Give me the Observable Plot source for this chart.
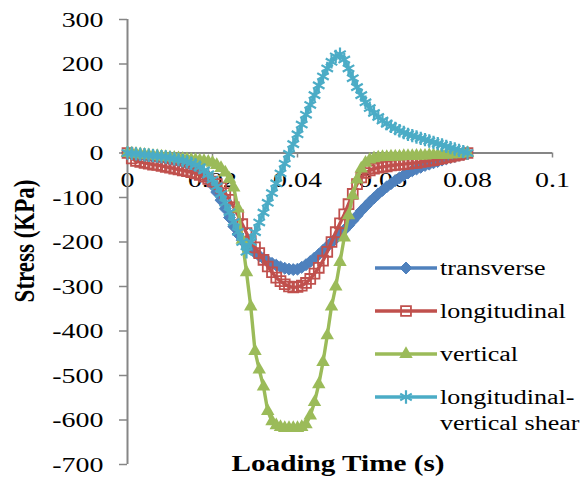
<!DOCTYPE html>
<html>
<head>
<meta charset="utf-8">
<script src="https://cdn.jsdelivr.net/npm/d3@7"></script>
<script src="https://cdn.jsdelivr.net/npm/@observablehq/plot@0.6"></script>
<style>
  body { margin: 0; background: #fff; }
  #chart { width: 581px; height: 478px; overflow: hidden; }
</style>
</head>
<body>
<div id="chart"></div>
<script>
// ---- data ----
const time = [
  0, 0.001, 0.002, 0.003, 0.004, 0.005, 0.006, 0.007, 0.008, 0.009,
  0.010, 0.011, 0.012, 0.013, 0.014, 0.015, 0.016, 0.017, 0.018, 0.019,
  0.020, 0.021, 0.022, 0.023, 0.024, 0.025, 0.026, 0.027, 0.028, 0.029,
  0.030, 0.031, 0.032, 0.033, 0.034, 0.035, 0.036, 0.037, 0.038, 0.039,
  0.040, 0.041, 0.042, 0.043, 0.044, 0.045, 0.046, 0.047, 0.048, 0.049,
  0.050, 0.051, 0.052, 0.053, 0.054, 0.055, 0.056, 0.057, 0.058, 0.059,
  0.060, 0.061, 0.062, 0.063, 0.064, 0.065, 0.066, 0.067, 0.068, 0.069,
  0.070, 0.071, 0.072, 0.073, 0.074, 0.075, 0.076, 0.077, 0.078, 0.079,
  0.080
];
const transverse = [
  0, -2, -4, -5, -6, -8, -9, -10, -12, -13,
  -15, -17, -19, -21, -24, -27, -32, -38, -47, -58,
  -72, -88, -106, -125, -145, -165, -182, -196, -207, -216,
  -224, -231, -237, -243, -248, -252, -256, -259, -261, -262,
  -261, -257, -251, -244, -236, -228, -219, -210, -201, -192,
  -183, -173, -163, -152, -141, -130, -120, -110, -101, -92,
  -84, -76, -69, -62, -56, -50, -45, -40, -36, -32,
  -28, -25, -22, -19, -16, -13, -10, -8, -5, -3,
  0
];
const longitudinal = [
  0, -12, -18, -20, -22, -24, -26, -27, -29, -31,
  -33, -35, -37, -39, -41, -43, -46, -49, -53, -58,
  -64, -70, -78, -90, -105, -122, -140, -160, -180, -198,
  -212, -225, -240, -255, -268, -280, -288, -295, -300, -302,
  -301, -298, -292, -283, -271, -258, -242, -222, -200, -178,
  -158, -138, -115, -92, -70, -55, -45, -39, -35, -33,
  -31, -30, -28, -27, -26, -25, -24, -23, -22, -20,
  -19, -17, -16, -14, -12, -10, -8, -6, -4, -2,
  0
];
const vertical = [
  0, -1, -2, -3, -4, -5, -6, -7, -8, -9,
  -10, -11, -12, -13, -14, -15, -16, -17, -18, -20,
  -22, -27, -34, -44, -58, -78, -125, -195, -268, -345,
  -445, -487, -525, -580, -603, -612, -616, -618, -618, -618,
  -618, -616, -610, -590, -560, -520, -470, -410, -345, -300,
  -245, -190, -140, -95, -60, -35, -22, -15, -12, -10,
  -9, -9, -8, -8, -8, -7, -7, -7, -6, -6,
  -6, -5, -5, -5, -4, -4, -3, -3, -2, -1,
  0
];
const shear = [
  0, -1, -2, -3, -4, -5, -6, -7, -8, -9,
  -11, -13, -15, -17, -20, -23, -27, -32, -39, -48,
  -60, -75, -92, -112, -133, -155, -177, -200, -222, -200,
  -178, -156, -134, -112, -90, -68, -46, -24, -2, 20,
  42, 64, 86, 108, 130, 152, 172, 190, 205, 217,
  222, 210, 190, 168, 148, 130, 114, 101, 90, 81,
  73, 66, 60, 55, 50, 46, 42, 39, 36, 33,
  30, 27, 24, 21, 18, 15, 12, 9, 6, 3,
  0
];
const seriesNames = ["transverse", "longitudinal", "vertical", "longitudinal-\nvertical shear"];
const xTicks = [0, 0.02, 0.04, 0.06, 0.08, 0.1];
const xTickLabels = ["0", "0.02", "0.04", "0.06", "0.08", "0.1"];
const yTicks = [300, 200, 100, 0, -100, -200, -300, -400, -500, -600, -700];
const xTitle = "Loading Time (s)";
const yTitle = "Stress (KPa)";

// ---- styling ----
const FONT = "'Liberation Serif', 'Times New Roman', serif";
const SX = 1.27; // horizontal stretch of the reference's text
const AXIS = "#868686";
const styles = [
  {values: transverse, color: "#4F81BD", symbol: "diamond2", r: 5.4, fill: "#4F81BD", sw: 1},
  {values: longitudinal, color: "#C0504D", symbol: "square2", r: 6.3, fill: "none", sw: 1.8},
  {values: vertical, color: "#9BBB59", symbol: "triangle", r: 5, fill: "#9BBB59", sw: 0},
  {values: shear, color: "#4BACC6", symbol: "asterisk", r: 6.3, fill: "none", sw: 2.2}
];

const marks = [
  Plot.ruleY([0], {stroke: AXIS, strokeWidth: 2}),
  Plot.ruleX(xTicks.slice(1), {x: d => d, y1: 0, y2: 0, insetBottom: -5, stroke: AXIS, strokeWidth: 1.5}),
  Plot.text(xTicks, {x: d => d, y: 0, dy: 27, text: (d, i) => xTickLabels[i], fill: "black"}),
  Plot.axisY({ticks: yTicks, tickSize: 8, tickPadding: 16, tickFormat: d => String(d),
              stroke: AXIS, strokeWidth: 1.5, fill: "black", label: null}),
  Plot.ruleX([0], {stroke: AXIS, strokeWidth: 2})
];
styles.forEach(s => {
  const rows = time.map((t, i) => ({t, v: s.values[i]}));
  marks.push(Plot.line(rows, {x: "t", y: "v", stroke: s.color, strokeWidth: 3.4}));
  marks.push(Plot.dot(rows, {x: "t", y: "v", symbol: s.symbol, r: s.r,
    fill: s.fill, stroke: s.sw ? s.color : "none", strokeWidth: s.sw}));
});

const svg = Plot.plot({
  width: 581,
  height: 478,
  marginLeft: 127,
  marginRight: 29,
  marginTop: 19,
  marginBottom: 14,
  style: {fontFamily: FONT, fontSize: "22px", color: "black", background: "white", overflow: "visible"},
  x: {domain: [0, 0.1], axis: null},
  y: {domain: [-700, 300], label: null},
  marks
});

// stretch all texts horizontally like the reference
function stretch(t) {
  const x = +t.getAttribute("x") || 0, y = +t.getAttribute("y") || 0;
  const tr = t.getAttribute("transform") || "";
  t.setAttribute("transform", `${tr} translate(${x},${y}) scale(${SX},1) translate(${-x},${-y})`);
}
svg.querySelectorAll("text").forEach(stretch);

const g = d3.select(svg).append("g").attr("font-family", FONT).attr("fill", "black");
// axis titles
g.append("text").text(xTitle)
  .attr("text-anchor", "middle").attr("font-weight", "bold").attr("font-size", 23)
  .attr("transform", `translate(338,471) scale(${SX},1)`);
g.append("text").text(yTitle)
  .attr("text-anchor", "middle").attr("font-weight", "bold").attr("font-size", 23)
  .attr("transform", `translate(34,241) scale(${SX},1) rotate(-90)`);

// legend
const symMap = {diamond2: d3.symbolDiamond2, square2: d3.symbolSquare2, triangle: d3.symbolTriangle, asterisk: d3.symbolAsterisk};
const legendY = [268, 311, 354, 397];
styles.forEach((s, i) => {
  const y = legendY[i];
  g.append("line").attr("x1", 375).attr("x2", 437).attr("y1", y).attr("y2", y)
    .attr("stroke", s.color).attr("stroke-width", 3.4);
  g.append("path").attr("transform", `translate(406,${y})`)
    .attr("d", d3.symbol(symMap[s.symbol], Math.PI * s.r * s.r)())
    .attr("fill", s.fill)
    .attr("stroke", s.sw ? s.color : "none").attr("stroke-width", s.sw);
  const lines = seriesNames[i].split("\n");
  lines.forEach((ln, k) => {
    g.append("text").text(ln).attr("font-size", 20.5).attr("dy", "0.32em")
      .attr("text-anchor", "start")
      .attr("transform", `translate(440,${y + k * 26}) scale(${SX},1)`);
  });
});

document.getElementById("chart").appendChild(svg);
</script>
</body>
</html>
